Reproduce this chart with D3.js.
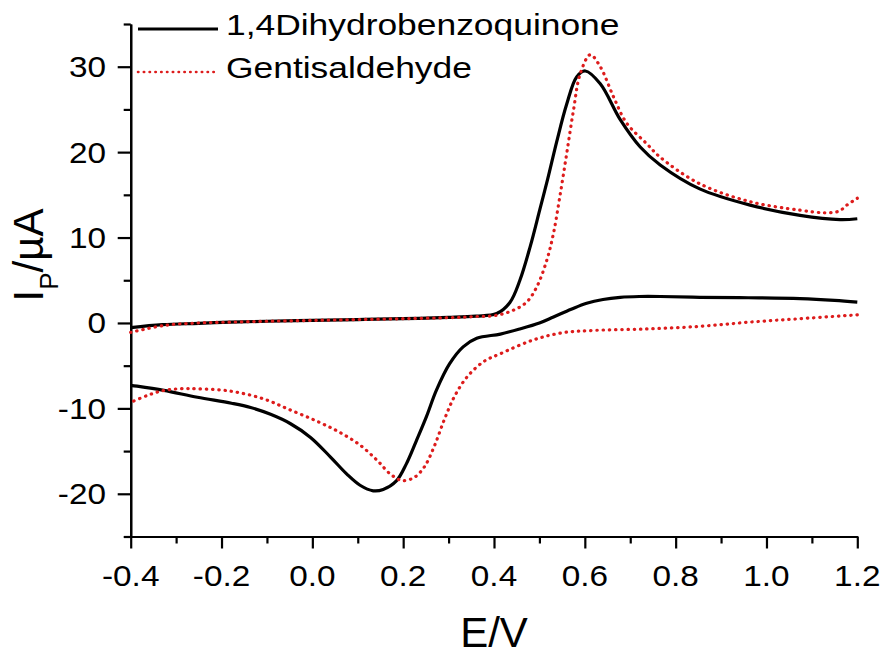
<!DOCTYPE html>
<html>
<head>
<meta charset="utf-8">
<script src="https://cdn.jsdelivr.net/npm/d3@7"></script>
<style>
  body { margin: 0; background: #fff; }
  text { font-family: 'Liberation Sans', Arial, sans-serif; fill: #000; }
</style>
</head>
<body>
<svg id="chart" width="885" height="655"></svg>
<script>
// ticks
var xTicks = [-0.4, -0.2, 0.0, 0.2, 0.4, 0.6, 0.8, 1.0, 1.2];
var xTickLabels = ['-0.4', '-0.2', '0.0', '0.2', '0.4', '0.6', '0.8', '1.0', '1.2'];
var xMinorTicks = [-0.3, -0.1, 0.1, 0.3, 0.5, 0.7, 0.9, 1.1];
var yTicks = [-20, -10, 0, 10, 20, 30];
var yTickLabels = ['-20', '-10', '0', '10', '20', '30'];
var yMinorTicks = [-25, -15, -5, 5, 15, 25, 35];

var seriesNames = ['1,4Dihydrobenzoquinone', 'Gentisaldehyde'];

// [E (V), I (uA)]
var quinoneForward = [
  [-0.40, -0.55], [-0.33, -0.2], [-0.25, -0.05], [-0.18, 0.1], [-0.10, 0.2],
  [0.00, 0.3], [0.10, 0.4], [0.20, 0.5], [0.30, 0.65], [0.36, 0.8],
  [0.406, 1.1], [0.435, 2.4], [0.457, 5.0], [0.480, 9.0], [0.501, 13.3],
  [0.518, 16.8], [0.538, 21.2], [0.560, 25.6], [0.582, 28.8], [0.601, 29.5],
  [0.634, 28.0], [0.678, 23.8], [0.722, 20.6], [0.766, 18.5], [0.853, 15.7],
  [0.964, 13.8], [1.074, 12.6], [1.162, 12.1], [1.200, 12.2]
];
var quinoneReverse = [
  [1.200, 2.45], [1.150, 2.65], [1.074, 2.85], [0.960, 2.95], [0.853, 3.0],
  [0.766, 3.1], [0.720, 3.1], [0.678, 3.0], [0.640, 2.75], [0.604, 2.3],
  [0.570, 1.6], [0.531, 0.7], [0.500, 0.0], [0.457, -0.7], [0.414, -1.3],
  [0.362, -1.8], [0.332, -2.8], [0.302, -4.8], [0.273, -7.9],
  [0.251, -11.0], [0.229, -13.8], [0.207, -16.5], [0.185, -18.5], [0.156, -19.5],
  [0.134, -19.65], [0.105, -19.0], [0.076, -17.7], [0.040, -15.7], [-0.004, -13.4],
  [-0.048, -11.8], [-0.092, -10.7], [-0.136, -9.9], [-0.178, -9.4], [-0.253, -8.7],
  [-0.327, -7.9], [-0.386, -7.4], [-0.40, -7.3]
];
var gentisForward = [
  [-0.40, -1.1], [-0.327, -0.3], [-0.25, 0.0], [-0.18, 0.1], [-0.10, 0.2],
  [0.00, 0.3], [0.10, 0.4], [0.20, 0.5], [0.30, 0.62], [0.36, 0.75],
  [0.406, 0.9], [0.443, 1.5], [0.472, 2.45], [0.494, 4.2], [0.516, 7.3],
  [0.531, 10.5], [0.545, 14.8], [0.560, 19.8], [0.575, 24.9], [0.590, 29.2],
  [0.612, 31.4], [0.634, 30.0], [0.663, 26.5], [0.692, 23.4], [0.736, 21.0],
  [0.766, 19.4], [0.853, 16.3], [0.964, 14.2], [1.074, 13.2], [1.130, 12.9],
  [1.160, 13.1], [1.177, 13.8], [1.200, 14.6]
];
var gentisReverse = [
  [1.200, 0.95], [1.074, 0.5], [0.964, 0.1], [0.853, -0.4], [0.735, -0.7],
  [0.620, -0.87], [0.550, -1.15], [0.486, -2.0], [0.414, -3.6], [0.378, -4.5],
  [0.341, -6.3], [0.312, -8.7], [0.290, -11.4], [0.268, -14.5], [0.246, -16.9],
  [0.224, -18.1], [0.198, -18.45], [0.172, -17.7], [0.143, -16.1], [0.105, -14.3],
  [0.060, -12.8], [0.010, -11.5], [-0.048, -10.2], [-0.107, -8.9], [-0.178, -8.0],
  [-0.253, -7.7], [-0.290, -7.7], [-0.327, -7.9], [-0.364, -8.5], [-0.40, -9.3]
];

var svg = d3.select('#chart');
var plotLeft = 130.7;
var plotRight = 857.3;
var plotTop = 24;
var plotBottom = 536.5;
var black = '#000';
var red = '#dd1c1c';

var xScale = d3.scaleLinear()
  .domain([-0.4, 1.2])
  .range([plotLeft, plotRight]);

var yScale = d3.scaleLinear()
  .domain([-25, 35])
  .range([plotBottom, plotTop]);

// axes: major and minor ticks
var xAxis = d3.axisBottom(xScale)
  .tickValues(xTicks)
  .tickSize(12)
  .tickSizeOuter(0)
  .tickFormat('');

var xAxisMinor = d3.axisBottom(xScale)
  .tickValues(xMinorTicks)
  .tickSize(7)
  .tickSizeOuter(0)
  .tickFormat('');

var yAxis = d3.axisLeft(yScale)
  .tickValues(yTicks)
  .tickSize(13)
  .tickSizeOuter(0)
  .tickFormat('');

var yAxisMinor = d3.axisLeft(yScale)
  .tickValues(yMinorTicks)
  .tickSize(7)
  .tickSizeOuter(0)
  .tickFormat('');

[[xAxis, 'translate(0,' + plotBottom + ')'], [xAxisMinor, 'translate(0,' + plotBottom + ')'],
  [yAxis, 'translate(' + plotLeft + ',0)'], [yAxisMinor, 'translate(' + plotLeft + ',0)']]
  .forEach(function (a) {
    var g = svg.append('g')
      .attr('transform', a[1])
      .call(a[0]);
    g.selectAll('path, line')
      .attr('stroke', black)
      .attr('stroke-width', 2.2);
  });

// tick labels (the picture's digits are a little wide)
svg.selectAll('.xlab')
  .data(xTicks)
  .enter()
  .append('text')
  .attr('class', 'xlab')
  .attr('transform', function (d) {
    return 'translate(' + xScale(d) + ',586) scale(1.15,1)';
  })
  .style('font-size', '29px')
  .style('text-anchor', 'middle')
  .text(function (d, i) {
    return xTickLabels[i];
  });

svg.selectAll('.ylab')
  .data(yTicks)
  .enter()
  .append('text')
  .attr('class', 'ylab')
  .attr('transform', function (d) {
    return 'translate(106,' + (yScale(d) + 10.5) + ') scale(1.15,1)';
  })
  .style('font-size', '29px')
  .style('text-anchor', 'end')
  .text(function (d, i) {
    return yTickLabels[i];
  });

// axis titles
svg.append('text')
  .attr('x', (plotLeft + plotRight) / 2)
  .attr('y', 647)
  .style('font-size', '42px')
  .style('text-anchor', 'middle')
  .text('E/V');

var yTitle = svg.append('text')
  .attr('transform', 'translate(43,255) rotate(-90)')
  .style('font-size', '42px')
  .style('text-anchor', 'middle');
yTitle.append('tspan').text('I');
yTitle.append('tspan')
  .attr('dy', 15)
  .style('font-size', '26px')
  .text('P');
yTitle.append('tspan')
  .attr('dy', -15)
  .text('/\u00b5A');

// curves
var line = d3.line()
  .x(function (d) { return xScale(d[0]); })
  .y(function (d) { return yScale(d[1]); })
  .curve(d3.curveCatmullRom.alpha(0.5));

[quinoneForward, quinoneReverse].forEach(function (s) {
  svg.append('path')
    .datum(s)
    .attr('d', line)
    .attr('fill', 'none')
    .attr('stroke', black)
    .attr('stroke-width', 3.2)
    .attr('stroke-linejoin', 'round');
});

[gentisForward, gentisReverse].forEach(function (s) {
  svg.append('path')
    .datum(s)
    .attr('d', line)
    .attr('fill', 'none')
    .attr('stroke', red)
    .attr('stroke-width', 3.2)
    .attr('stroke-linecap', 'round')
    .attr('stroke-dasharray', '0.4,5.8');
});

// legend
var legend = [[black, null, 29, 35], [red, '0.4,5.4', 72, 78]];
legend.forEach(function (l, i) {
  var ln = svg.append('line')
    .attr('x1', 138)
    .attr('x2', 218)
    .attr('y1', l[2])
    .attr('y2', l[2])
    .attr('stroke', l[0])
    .attr('stroke-width', i === 0 ? 3.2 : 2.6);
  if (l[1]) {
    ln.attr('stroke-dasharray', l[1])
      .attr('stroke-linecap', 'round');
  }
  svg.append('text')
    .attr('transform', 'translate(226,' + l[3] + ') scale(1.18,1)')
    .style('font-size', '30px')
    .text(seriesNames[i]);
});
</script>
</body>
</html>
